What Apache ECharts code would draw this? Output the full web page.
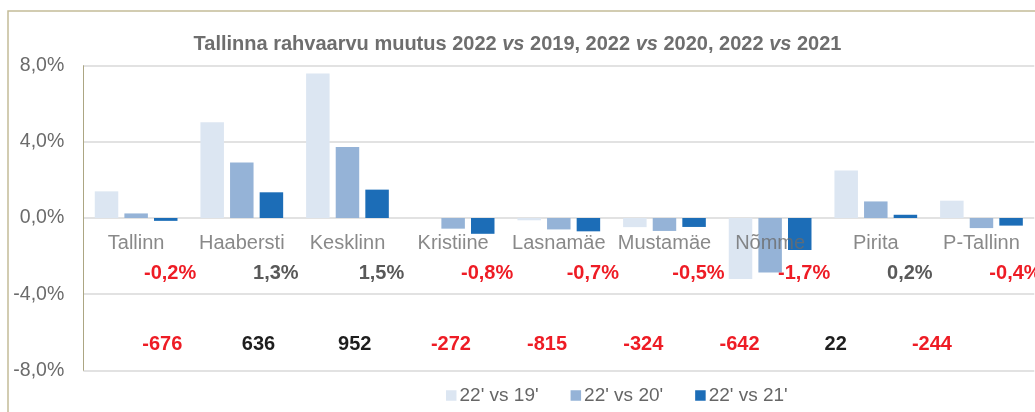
<!DOCTYPE html>
<html>
<head>
<meta charset="utf-8">
<script src="https://cdn.jsdelivr.net/npm/echarts@6/dist/echarts.min.js"></script>
<style>
html,body{margin:0;padding:0;background:#fff;}
#chart{width:1035px;height:412px;}
</style>
</head>
<body>
<div id="chart"></div>
<script>
// ---- data ----
var categories = ['Tallinn', 'Haabersti', 'Kesklinn', 'Kristiine', 'Lasnamäe', 'Mustamäe', 'Nõmme', 'Pirita', 'P-Tallinn'];
var seriesNames = ["22' vs 19'", "22' vs 20'", "22' vs 21'"];
var vs19 = [1.40, 5.03, 7.59, 0.00, -0.12, -0.48, -3.20, 2.49, 0.91];
var vs20 = [0.24, 2.91, 3.73, -0.56, -0.60, -0.68, -2.86, 0.87, -0.53];
var vs21 = [-0.15, 1.35, 1.49, -0.83, -0.70, -0.47, -1.68, 0.17, -0.40];
var pctChange = [-0.2, 1.3, 1.5, -0.8, -0.7, -0.5, -1.7, 0.2, -0.4];
var absChange = [-676, 636, 952, -272, -815, -324, -642, 22, -244];
var yTicks = [-8, -4, 0, 4, 8];

// ---- style ----
var colors = ['#dce6f2', '#95b3d7', '#1c6db7'];
var red = '#ee1c25';
var FONT = 'Liberation Sans, Arial, sans-serif';
var CAT_ROW = -1.35;
var PCT_ROW = -2.9;
var ABS_ROW = -6.67;

function fmtPct(v) { return v.toFixed(1).replace('.', ',') + '%'; }

var catData = categories.map(function (c) {
  return { value: [c, CAT_ROW], label: { formatter: c } };
});
var pctData = categories.map(function (c, i) {
  return {
    value: [c, PCT_ROW],
    label: { formatter: fmtPct(pctChange[i]), color: pctChange[i] < 0 ? red : '#595959' }
  };
});
var absData = categories.map(function (c, i) {
  return {
    value: [c, ABS_ROW],
    label: { formatter: String(absChange[i]), color: absChange[i] < 0 ? red : '#1e1e1e' }
  };
});

var chart = echarts.init(document.getElementById('chart'), null, { renderer: 'canvas' });

var barSeries = [vs19, vs20, vs21].map(function (arr, k) {
  return {
    name: seriesNames[k],
    type: 'bar',
    xAxisIndex: 0, yAxisIndex: 0,
    data: arr,
    barWidth: 23.5,
    barGap: '26%',
    itemStyle: { color: colors[k] },
    silent: true,
    z: 2
  };
});

var labelCommon = {
  show: true, position: 'inside',
  fontFamily: FONT, fontSize: 20, fontWeight: 'bold',
  textBorderWidth: 0, textBorderColor: 'transparent', opacity: 1
};

function textSeries(name, data, xi, label) {
  return {
    name: name,
    type: 'scatter',
    xAxisIndex: xi, yAxisIndex: xi,
    data: data,
    symbolSize: 1,
    itemStyle: { color: 'rgba(0,0,0,0)' },
    silent: true,
    label: label,
    z: 5
  };
}

var option = {
  animation: false,
  backgroundColor: '#ffffff',
  title: {
    left: 'center',
    top: 29,
    text: '{b|Tallinna rahvaarvu muutus 2022 }{i|vs}{b| 2019, 2022 }{i|vs}{b| 2020, 2022 }{i|vs}{b| 2021}',
    textStyle: {
      rich: {
        b: { fontFamily: FONT, fontSize: 20, fontWeight: 'bold', color: '#6e6e6e' },
        i: { fontFamily: FONT, fontSize: 20, fontWeight: 'bold', fontStyle: 'italic', color: '#6e6e6e' }
      }
    }
  },
  graphic: [{
    type: 'rect',
    shape: { x: 8, y: 11, width: 1100, height: 500 },
    style: { fill: 'none', stroke: '#c4bc98', lineWidth: 1.5 },
    silent: true,
    z: -10
  }],
  legend: {
    left: 441,
    top: 381,
    itemWidth: 10.5,
    itemHeight: 10.5,
    itemGap: 32,
    icon: 'rect',
    data: seriesNames,
    textStyle: { fontFamily: FONT, fontSize: 19, color: '#666666', padding: [0, 0, 0, -2] }
  },
  grid: [
    { left: 83.3, right: 0.7, top: 65.7, bottom: 41.7, containLabel: false },
    { left: 114.2, right: 55, top: 65.7, bottom: 41.7, containLabel: false }
  ],
  xAxis: [
    {
      gridIndex: 0,
      type: 'category',
      data: categories,
      axisLine: { show: false },
      axisTick: { show: false },
      axisLabel: { show: false }
    },
    {
      gridIndex: 1,
      type: 'category',
      data: categories,
      show: false
    }
  ],
  yAxis: [
    {
      gridIndex: 0,
      type: 'value',
      min: -8, max: 8, interval: 4,
      axisLine: { show: true, lineStyle: { color: '#aca683', width: 1 } },
      axisTick: { show: false },
      splitLine: { show: true, lineStyle: { color: '#d9d9d9', width: 1.5 } },
      axisLabel: {
        margin: 19,
        fontFamily: FONT,
        fontSize: 19.5,
        color: '#6b6b6b',
        formatter: function (v) { return fmtPct(v); }
      }
    },
    {
      gridIndex: 1,
      type: 'value',
      min: -8, max: 8, interval: 4,
      show: false
    }
  ],
  series: barSeries.concat([
    textSeries('cat', catData, 0, {
      show: true, position: 'inside', fontFamily: FONT, fontSize: 20, color: '#6b6b6b',
      textBorderWidth: 0, textBorderColor: 'transparent'
    }),
    textSeries('pct', pctData, 0, Object.assign({ offset: [34, 0] }, labelCommon)),
    textSeries('abs', absData, 1, labelCommon)
  ])
};
chart.setOption(option);
</script>
</body>
</html>
